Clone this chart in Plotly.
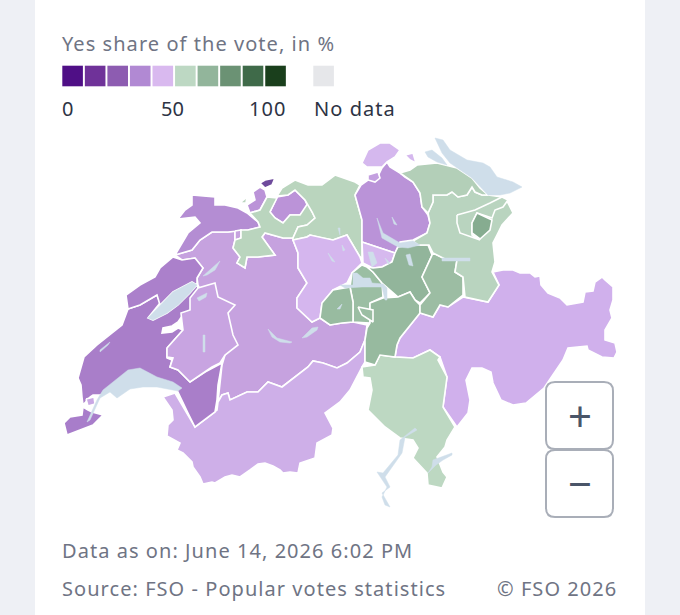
import plotly.graph_objects as go

# Legend
legend_colors = ["#4f0f86", "#6f3299", "#8d5cb1", "#b189d3", "#d9b9ef",
                 "#bdd8c3", "#92b59b", "#6b9274", "#3f6a49", "#1a3f1c"]
no_data_color = "#e6e7ea"
title_text = "Yes share of the vote, in %"
tick_labels = ["0", "50", "100"]
no_data_label = "No data"
date_text = "Data as on: June 14, 2026 6:02 PM"
source_text = "Source: FSO - Popular votes statistics"
copyright_text = "© FSO 2026"

# Canton outlines, in map units
BE = [(175, 255), (192, 250), (200, 240), (212, 232), (228, 232), (235, 231), (235, 240), (233, 248), (240, 257),
      (237, 263), (245, 268), (247, 257), (258, 257), (275, 255), (262, 237), (265, 233), (283, 238), (293, 238),
      (293, 240), (298, 253), (298, 268), (307, 283), (297, 298), (297, 308), (312, 322), (320, 318), (330, 325),
      (342, 323), (353, 322), (367, 325), (365, 340), (360, 352), (347, 363), (337, 368), (323, 363), (313, 361),
      (308, 367), (300, 373), (282, 387), (268, 382), (258, 392), (247, 392), (230, 400), (228, 393), (222, 395),
      (218, 402), (222, 365), (225, 355), (205, 300), (198, 285), (197, 278), (203, 268), (195, 258), (182, 260)]
VS = [(362, 367), (350, 390), (340, 402), (325, 413), (333, 428), (332, 435), (317, 443), (315, 458), (300, 463),
      (298, 473), (290, 472), (283, 473), (280, 470), (273, 466), (265, 463), (258, 464), (250, 470), (240, 477),
      (232, 475), (225, 477), (215, 483), (212, 482), (203, 484), (200, 477), (193, 467), (192, 462), (183, 453),
      (177, 450), (180, 443), (167, 436), (168, 425), (173, 420), (172, 410), (163, 397), (175, 393), (195, 427),
      (217, 410), (218, 402), (222, 395), (228, 393), (230, 400), (247, 392), (258, 392), (268, 382), (282, 387),
      (300, 373), (308, 367), (313, 361), (323, 363), (337, 368), (347, 363), (360, 352), (365, 340), (365, 362)]
VD = [(128, 309), (140, 305), (157, 295), (160, 303), (148, 318), (153, 320), (167, 313), (178, 305), (190, 293),
      (197, 285), (202, 300), (190, 312), (182, 316), (178, 322), (172, 326), (163, 328), (162, 333), (172, 332),
      (178, 328), (183, 330), (167, 348), (167, 358), (172, 360), (170, 367), (178, 370), (190, 382), (205, 372),
      (222, 363), (218, 385), (217, 400), (215, 412), (195, 427), (188, 413), (177, 390), (165, 385), (130, 385),
      (100, 395), (93, 395), (90, 397), (83, 405), (82, 397), (81, 385), (78, 378), (84, 357), (97, 345), (110, 335),
      (122, 325)]
VD2 = [(86, 399), (94, 397), (95, 404), (88, 406)]
GE = [(64, 423), (70, 417), (82, 415), (83, 407), (88, 410), (92, 412), (103, 415), (93, 425), (80, 430), (67, 435)]
NE = [(173, 257), (182, 260), (195, 258), (203, 268), (197, 278), (197, 285), (192, 282), (173, 292), (160, 305),
      (157, 295), (140, 305), (128, 309), (126, 295), (140, 285), (155, 277), (160, 268)]
JU = [(192, 195), (215, 197), (215, 205), (225, 205), (238, 208), (247, 213), (258, 222), (260, 227), (248, 230),
      (228, 232), (212, 232), (200, 240), (192, 250), (175, 255), (188, 233), (200, 223), (195, 217), (178, 219),
      (185, 210), (192, 205)]
JU2 = [(235, 231), (241, 230), (241, 238), (235, 240)]
FR = [(167, 348), (183, 330), (182, 322), (181, 313), (190, 310), (190, 298), (198, 288), (215, 283), (218, 297),
      (230, 303), (235, 305), (228, 313), (233, 335), (238, 345), (225, 355), (220, 363), (212, 367), (190, 382),
      (178, 370), (170, 367), (173, 358), (167, 357)]
BS = [(260, 183), (265, 180), (275, 178), (272, 185), (265, 188)]
BL = [(270, 212), (277, 197), (288, 195), (295, 190), (305, 200), (308, 207), (300, 215), (290, 215), (283, 223),
      (275, 218)]
BL2 = [(253, 192), (260, 187), (265, 190), (267, 197), (260, 210), (250, 213), (247, 205), (255, 200)]
SO = [(233, 248), (235, 240), (241, 238), (241, 230), (248, 230), (260, 227), (258, 222), (250, 213), (260, 210),
      (267, 197), (277, 198), (270, 212), (275, 218), (283, 223), (290, 215), (300, 215), (308, 203), (312, 212),
      (315, 218), (307, 225), (298, 227), (293, 238), (283, 238), (265, 233), (262, 237), (275, 255), (258, 257),
      (247, 257), (245, 268), (237, 263), (240, 257)]
SO2 = [(240, 203), (247, 197), (246, 203)]
AG = [(277, 196), (282, 188), (295, 180), (308, 185), (322, 185), (335, 175), (355, 182), (360, 185), (355, 195),
      (362, 220), (362, 242), (362, 258), (360, 257), (353, 245), (347, 235), (333, 240), (322, 238), (310, 235),
      (307, 237), (293, 240), (293, 238), (298, 227), (307, 225), (315, 218), (312, 212), (305, 200), (295, 190),
      (288, 195)]
ZH = [(355, 195), (361, 185), (368, 180), (378, 176), (382, 168), (387, 162), (390, 167), (400, 173), (405, 177),
      (413, 182), (420, 193), (422, 207), (428, 215), (430, 223), (427, 233), (413, 240), (400, 242), (395, 253),
      (377, 247), (362, 242), (362, 220)]
SH = [(362, 163), (368, 150), (380, 143), (390, 143), (400, 150), (395, 157), (387, 162), (382, 167), (367, 167)]
SH2 = [(368, 175), (378, 172), (380, 178), (375, 182), (368, 180)]
SH3 = [(405, 155), (413, 153), (416, 163), (410, 160)]
ZG = [(362, 242), (377, 247), (395, 253), (392, 262), (382, 267), (373, 268), (363, 263)]
LU = [(293, 240), (307, 237), (310, 235), (322, 238), (333, 240), (347, 235), (353, 245), (360, 257), (362, 263),
      (352, 273), (347, 283), (333, 290), (322, 303), (320, 318), (312, 322), (297, 308), (297, 298), (307, 283),
      (298, 268), (298, 253)]
SZ = [(398, 247), (410, 245), (428, 245), (432, 255), (422, 277), (430, 293), (420, 303), (415, 300), (410, 292),
      (398, 297), (382, 283), (373, 272), (367, 267), (373, 268), (382, 267), (392, 262), (395, 253)]
UR = [(370, 303), (383, 298), (398, 297), (410, 292), (415, 300), (420, 305), (420, 313), (413, 322), (400, 338),
      (397, 345), (395, 357), (380, 355), (375, 365), (365, 362), (365, 340), (367, 328), (370, 323)]
OW = [(322, 303), (333, 290), (350, 287), (353, 302), (353, 322), (342, 323), (330, 325), (320, 318)]
NW = [(350, 287), (352, 273), (362, 265), (367, 267), (373, 272), (382, 283), (383, 297), (370, 303), (370, 323),
      (353, 322), (353, 302)]
OW2 = [(358, 307), (373, 310), (373, 322), (362, 315)]
GL = [(433, 253), (445, 259), (457, 260), (455, 272), (463, 277), (463, 295), (448, 307), (440, 305), (433, 317),
      (420, 313), (420, 305), (430, 293), (422, 277)]
SG = [(433, 202), (433, 195), (447, 195), (452, 192), (458, 197), (467, 195), (472, 187), (475, 192), (482, 195),
      (488, 195), (502, 197), (508, 203), (513, 213), (502, 225), (497, 235), (493, 243), (495, 262), (492, 272),
      (499, 285), (488, 302), (465, 297), (463, 277), (455, 272), (457, 260), (445, 259), (433, 253), (429, 245),
      (418, 245), (413, 241), (427, 233), (430, 223), (428, 213)]
TG = [(400, 173), (410, 170), (417, 165), (437, 163), (457, 168), (472, 178), (480, 188), (488, 195), (482, 195),
      (475, 192), (472, 187), (467, 195), (458, 197), (452, 192), (447, 195), (433, 195), (433, 202), (428, 213),
      (422, 207), (420, 193), (413, 182), (405, 177)]
AR = [(457, 215), (475, 210), (490, 203), (502, 197), (508, 200), (503, 207), (495, 210), (492, 218), (477, 213),
      (472, 223), (472, 235), (480, 240), (460, 233), (457, 223)]
AI = [(472, 223), (477, 213), (492, 220), (490, 230), (480, 239), (472, 233)]
GR = [(395, 357), (397, 345), (400, 338), (413, 322), (420, 313), (433, 317), (440, 305), (448, 307), (463, 297),
      (488, 302), (499, 285), (493, 272), (503, 270), (513, 270), (520, 273), (530, 273), (535, 277), (540, 276),
      (541, 285), (548, 293), (560, 298), (567, 305), (577, 303), (583, 302), (585, 292), (593, 291), (595, 282),
      (602, 277), (605, 280), (613, 287), (613, 300), (610, 310), (612, 318), (605, 330), (605, 340), (615, 343),
      (617, 352), (614, 358), (602, 357), (588, 350), (587, 346), (577, 347), (568, 348), (563, 360), (553, 375),
      (544, 388), (526, 403), (513, 405), (501, 400), (493, 383), (491, 372), (482, 368), (472, 368), (466, 380),
      (470, 400), (468, 413), (457, 427), (447, 413), (443, 407), (447, 377), (440, 357), (430, 350), (413, 358)]
TI = [(375, 365), (380, 355), (395, 357), (413, 358), (430, 350), (440, 357), (438, 360), (447, 377), (443, 407),
      (455, 427), (447, 440), (445, 447), (437, 457), (443, 472), (447, 477), (442, 488), (428, 485), (427, 473),
      (413, 458), (418, 448), (413, 440), (400, 438), (385, 427), (368, 410), (372, 390), (370, 378), (363, 377),
      (362, 367)]

# Lakes
geneva = [(87, 422), (97, 400), (103, 390), (115, 380), (128, 370), (140, 368), (157, 377), (173, 382), (182, 388),
          (178, 391), (157, 387), (143, 387), (130, 389), (117, 398), (110, 392), (100, 398), (90, 420)]
neuchatel = [(148, 318), (160, 305), (173, 292), (192, 282), (197, 285), (190, 293), (178, 305), (167, 313), (153, 320)]
murten = [(197, 298), (207, 293), (206, 297), (199, 301)]
biel = [(203, 276), (220, 261), (215, 270), (207, 275)]
joux = [(100, 350), (110, 342), (108, 345), (100, 352)]
gruyere = [(203, 335), (205, 335), (205, 352), (203, 352)]
thun = [(268, 329), (277, 338), (292, 342), (290, 343), (280, 342), (272, 337)]
brienz = [(302, 338), (312, 328), (318, 327), (317, 330), (307, 337)]
sarnen = [(337, 309), (342, 304), (340, 309)]
lucerne = [(340, 285), (353, 285), (353, 273), (357, 273), (363, 278), (370, 278), (372, 283), (383, 284), (387, 288),
           (387, 300), (385, 300), (382, 287), (362, 287), (345, 288)]
zug = [(368, 252), (373, 252), (377, 263), (372, 267)]
aegeri = [(385, 258), (390, 263), (388, 264)]
sempach = [(328, 253), (335, 262), (332, 261)]
baldegg = [(342, 245), (345, 250), (343, 251)]
hallwil = [(338, 228), (340, 228), (340, 235)]
zurich = [(377, 218), (383, 233), (400, 243), (413, 241), (420, 245), (408, 248), (398, 247), (382, 238)]
greifensee = [(392, 217), (397, 225), (394, 224)]
lauerz = [(406, 255), (410, 254), (413, 266), (409, 265)]
walen = [(442, 258), (470, 258), (470, 261), (442, 261)]
constance = [(435, 138), (443, 140), (450, 150), (467, 160), (483, 163), (490, 167), (497, 177), (513, 182), (522, 187),
             (510, 193), (500, 195), (488, 195), (472, 178), (457, 168), (450, 163), (442, 153)]
untersee = [(425, 152), (432, 150), (442, 158), (447, 165), (437, 162), (428, 157)]
maggiore = [(417, 430), (405, 437), (402, 453), (397, 460), (385, 477), (390, 487), (382, 493), (390, 507), (385, 505),
            (382, 497), (387, 487), (377, 472), (383, 473), (398, 455), (400, 440), (415, 428)]
lugano = [(452, 453), (442, 457), (433, 460), (432, 467), (428, 473), (436, 465), (443, 460), (452, 455)]

lakes = [geneva, neuchatel, murten, biel, joux, gruyere, thun, brienz, sarnen, lucerne, zug, aegeri, sempach,
         baldegg, hallwil, zurich, greifensee, lauerz, walen, constance, untersee, maggiore, lugano]

# Drawing order matters, later cantons sit on top of the big ones
cantons = [
    (BE, "#c6a2df"), (VS, "#ceafe8"), (VD, "#a97ec9"), (VD2, "#c9a8e4"), (GE, "#a87dca"),
    (NE, "#ab80cb"), (JU, "#b48dd3"), (JU2, "#c6a2df"), (FR, "#c8a4e1"), (BL, "#bb93d8"), (BL2, "#bb93d8"),
    (BS, "#6e4a9c"), (SO, "#bad5be"), (SO2, "#bad5be"), (AG, "#bad5be"), (ZH, "#ba93d8"), (SH, "#d5b8ee"),
    (SH2, "#c4a0e0"), (SH3, "#d5b8ee"), (ZG, "#d6b9ee"), (LU, "#d5b6ee"), (GR, "#d0b0ec"), (TI, "#bdd8c2"),
    (NW, "#9bbea3"), (SZ, "#92b59b"), (UR, "#97ba9f"), (OW, "#98bba0"), (OW2, "#9bbea3"), (GL, "#9cbda3"),
    (SG, "#b9d4bf"), (TG, "#b3cfb8"), (AR, "#b9d4bf"), (AI, "#86ac90"),
]

fig = go.Figure()

for outline, color in cantons:
    pts = outline + outline[:1]
    fig.add_trace(go.Scatter(x=[p[0] for p in pts], y=[p[1] for p in pts], mode="lines", fill="toself",
                             fillcolor=color, line=dict(color="white", width=1.6), hoverinfo="skip"))

for lake in lakes:
    pts = lake + lake[:1]
    fig.add_trace(go.Scatter(x=[p[0] for p in pts], y=[p[1] for p in pts], mode="lines", fill="toself",
                             fillcolor="#cfdeea", line=dict(color="#cfdeea", width=0.5), hoverinfo="skip"))

# Legend swatches
fig.add_trace(go.Scatter(x=[72.6 + 22.55 * i for i in range(len(legend_colors))] + [323.6],
                         y=[76] * (len(legend_colors) + 1), mode="markers", hoverinfo="skip",
                         marker=dict(symbol="square", size=20.6, color=legend_colors + [no_data_color],
                                     line=dict(width=0))))


def label(text, x, y, color, size=20):
    fig.add_annotation(x=x, y=y, text=text, showarrow=False, xanchor="left", yanchor="middle", align="left",
                       font=dict(family="Noto Sans", size=size, color=color))


def button(y0, y1):
    x0, x1, r = 546, 613, 9
    return dict(type="path", line=dict(color="#a9aeb8", width=2), fillcolor="white",
                path=f"M {x0 + r} {y0} L {x1 - r} {y0} Q {x1} {y0} {x1} {y0 + r} L {x1} {y1 - r} Q {x1} {y1} {x1 - r} {y1} "
                     f"L {x0 + r} {y1} Q {x0} {y1} {x0} {y1 - r} L {x0} {y0 + r} Q {x0} {y0} {x0 + r} {y0} Z")


label(title_text, 60, 43, "#6f7484")
label(tick_labels[0], 60, 108, "#2d3344")
label(tick_labels[1], 159, 108, "#2d3344")
label(tick_labels[2], 247, 108, "#2d3344")
label(no_data_label, 312, 108, "#2d3344")
label(date_text, 60, 550, "#6f7484")
label(source_text, 60, 588, "#6f7484")
label(copyright_text, 495, 588, "#6f7484")
label("+", 566, 415, "#4a5568", 42)
label("−", 566, 482, "#4a5568", 42)

fig.update_layout(
    width=680, height=615, showlegend=False, margin=dict(l=0, r=0, t=0, b=0),
    paper_bgcolor="#eef0f5", plot_bgcolor="#eef0f5",
    xaxis=dict(range=[0, 680], visible=False, fixedrange=True),
    yaxis=dict(range=[615, 0], visible=False, fixedrange=True),
    shapes=[
        dict(type="rect", x0=35, x1=645, y0=0, y1=615, fillcolor="white", line=dict(width=0), layer="below"),
        button(382, 449),
        button(450, 517),
    ],
)

# the page text is a bit spaced out, plotly has no option for that
spacing = """
document.body.style.margin = '0';
document.body.style.overflow = 'hidden';
document.querySelectorAll('.annotation-text').forEach(function (t) {
    if (t.textContent.length > 1 && t.textContent != '50') t.style.letterSpacing = '1.05px';
});
"""

fig.write_html("out.html", config={"displayModeBar": False}, post_script=spacing)
